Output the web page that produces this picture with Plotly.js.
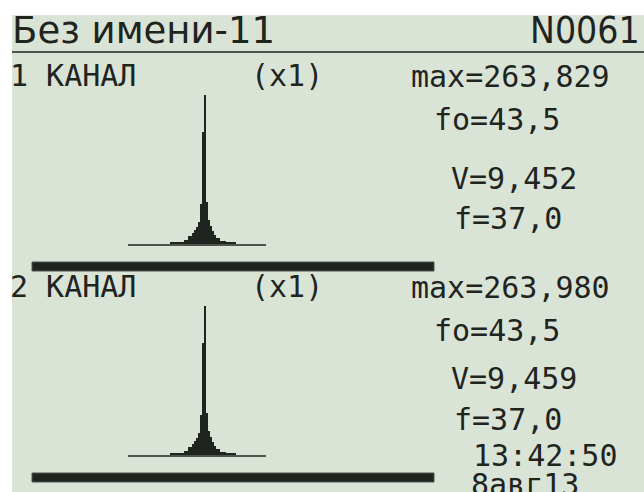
<!DOCTYPE html>
<html>
<head>
<meta charset="utf-8">
<script src="https://cdn.plot.ly/plotly-3.0.1.min.js"></script>
<style>
html,body{margin:0;padding:0;background:#ffffff;}
#chart{width:644px;height:492px;}
</style>
</head>
<body>
<div id="chart"></div>
<script>
// ---- data ----
const fileName = "Без имени-11";
const recordNo = "N0061";
const channelLabels = ["1 КАНАЛ", "2 КАНАЛ"];
const gainLabels = ["(x1)", "(x1)"];
const maxValues = ["263,829", "263,980"];
const f0Values = ["43,5", "43,5"];
const vValues = ["9,452", "9,459"];
const fValues = ["37,0", "37,0"];
const timeLabel = "13:42:50";
const dateLabel = "8авг13";
const binIndex = [0,1,2,3,4,5,6,7,8,9,10,11,12,13,14,15,16,17,18,19,20,21,22,23,24,25,26,27,28,29,30,31,32,33,34,35,36,37,38,39,40,41,42,43,44,45,46,47,48,49,50,51,52,53,54,55,56,57,58,59,60,61,62,63,64,65,66,67,68];
const hist1 = [0,0,0,0,0,0,0,0,0,0,0,0,0,0,0,0,0,0,0,0,0,2,2,2,2,2,2,2,4,4,8,8,11,14,17,22,40,112,149,42,24,18,13,9,6,6,3,3,3,2,2,2,2,2,0,0,0,0,0,0,0,0,0,0,0,0,0,0,0];
const hist2 = [0,0,0,0,0,0,0,0,0,0,0,0,0,0,0,0,0,0,0,0,0,2,2,2,2,2,2,2,4,4,8,8,11,14,17,22,40,112,149,42,24,18,13,9,6,6,3,3,3,2,2,2,2,2,0,0,0,0,0,0,0,0,0,0,0,0,0,0,0];

// ---- layout helpers ----
const W = 644, H = 492;
const INK = "#1f241f";
const LCD = "#dae4d6";
const MONO = "DejaVu Sans Mono";
const px = x => x / W;
const py = y => 1 - y / H;

function ann(text, x, y, size, family, xanchor) {
  return {
    text: text, xref: "paper", yref: "paper", x: px(x), y: py(y),
    xanchor: xanchor || "left", yanchor: "middle", showarrow: false,
    borderpad: 0, font: {family: family || MONO, size: size || 30, color: INK}
  };
}

const annotations = [
  ann(fileName, 11, 31, 37, "DejaVu Sans"),
  ann(recordNo, 641, 31, 37, "DejaVu Sans Condensed, DejaVu Sans", "right"),
];
const rowOffsets = [0, 211];
const vOffsets = [0, 200];
for (let c = 0; c < 2; c++) {
  const o = rowOffsets[c], v = vOffsets[c];
  annotations.push(ann(channelLabels[c], 9, 75 + o));
  annotations.push(ann(gainLabels[c], 287, 75 + o, 30, MONO, "center"));
  annotations.push(ann("max=" + maxValues[c], 410, 76 + o));
  annotations.push(ann("fo=" + f0Values[c], 433, 119.5 + o));
  annotations.push(ann("V=" + vValues[c], 450, 178 + v));
  annotations.push(ann("f=" + fValues[c], 453, 218 + (c ? 201 : 0)));
}
annotations.push(ann(timeLabel, 472, 455));
annotations.push(ann(dateLabel, 470, 484));

const shapes = [
  {type: "rect", xref: "paper", yref: "paper", x0: px(12), x1: 1, y0: 0, y1: py(15),
   fillcolor: LCD, line: {width: 0}, layer: "below"},
  {type: "line", xref: "paper", yref: "paper", x0: px(12), x1: 1, y0: py(52), y1: py(52),
   line: {color: "#4e534e", width: 2}},
  {type: "rect", xref: "paper", yref: "paper", x0: px(32), x1: px(434), y0: py(271), y1: py(262),
   fillcolor: INK, line: {color: "#4e534e", width: 1}},
  {type: "rect", xref: "paper", yref: "paper", x0: px(32), x1: px(434), y0: py(482), y1: py(473),
   fillcolor: INK, line: {color: "#4e534e", width: 1}}
];

const histAxisX = {
  domain: [px(128), px(266)], range: [-0.5, 68.5], showgrid: false, zeroline: false,
  showticklabels: false, ticks: "", showline: true, linecolor: "#4e534e", linewidth: 2, fixedrange: true
};
const histAxisY = (bottom, top) => ({
  domain: [py(bottom), py(top)], range: [0, 150], showgrid: false, zeroline: false,
  showticklabels: false, ticks: "", showline: false, fixedrange: true
});

const traces = [
  {type: "bar", x: binIndex, y: hist1, xaxis: "x", yaxis: "y",
   marker: {color: INK, line: {width: 0}}, hoverinfo: "skip"},
  {type: "bar", x: binIndex, y: hist2, xaxis: "x2", yaxis: "y2",
   marker: {color: INK, line: {width: 0}}, hoverinfo: "skip"}
];

const layout = {
  width: W, height: H,
  margin: {l: 0, r: 0, t: 0, b: 0, pad: 0},
  paper_bgcolor: "#ffffff", plot_bgcolor: "rgba(0,0,0,0)",
  showlegend: false, bargap: 0, hovermode: false,
  xaxis: Object.assign({anchor: "y"}, histAxisX),
  yaxis: Object.assign({anchor: "x"}, histAxisY(244, 94)),
  xaxis2: Object.assign({anchor: "y2"}, histAxisX),
  yaxis2: Object.assign({anchor: "x2"}, histAxisY(455, 305)),
  shapes: shapes,
  annotations: annotations
};

Plotly.newPlot("chart", traces, layout, {staticPlot: true, displayModeBar: false});
</script>
</body>
</html>
